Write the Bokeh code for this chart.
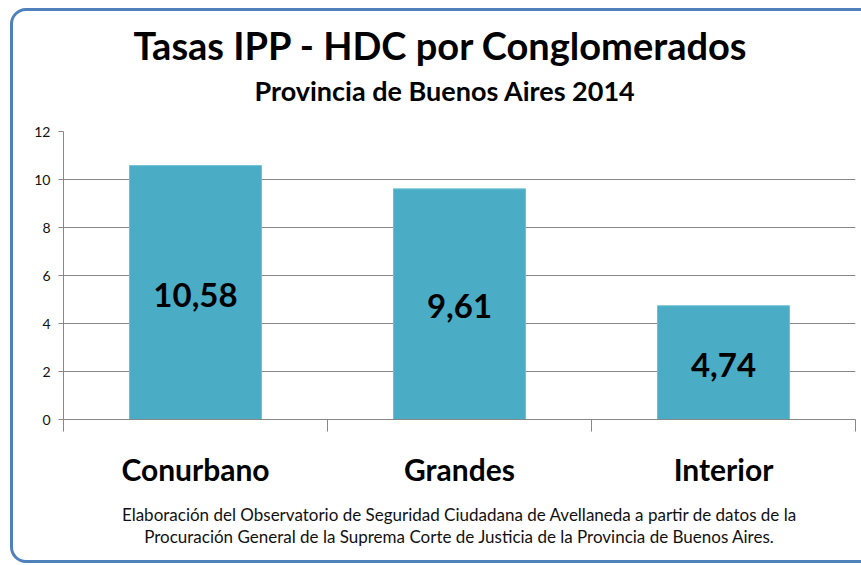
from bokeh.plotting import figure
from bokeh.models import ColumnDataSource, FixedTicker, Title, Range1d, InlineStyleSheet
from bokeh.core.properties import value
from bokeh.embed import file_html
from bokeh.resources import INLINE

categories = ["Conurbano", "Grandes", "Interior"]
rates = [10.58, 9.61, 4.74]
y_ticks = [0, 2, 4, 6, 8, 10, 12]
title_text = "Tasas IPP - HDC por Conglomerados"
subtitle_text = "Provincia de Buenos Aires 2014"
note_lines = [
    "Elaboración del Observatorio de Seguridad Ciudadana de Avellaneda a partir de datos de la",
    "Procuración General de la Suprema Corte de Justicia de la Provincia de Buenos Aires.",
]

W, H = 861, 565
FONT = "Lato"

xs = [i + 0.5 for i in range(len(categories))]
src = ColumnDataSource(dict(
    x=xs,
    top=rates,
    mid=[r / 2 for r in rates],
    lab=[f"{r:.2f}".replace(".", ",") for r in rates],
))

p = figure(width=W, height=H, output_backend="svg", toolbar_location=None,
           x_range=Range1d(0, len(categories)), y_range=Range1d(0, 12),
           min_border_left=63, min_border_right=6, min_border_top=131, min_border_bottom=146)
p.title = None
p.outline_line_color = None
p.background_fill_color = "white"
p.border_fill_color = "white"

p.vbar(x="x", top="top", width=0.5, bottom=0, source=src,
       fill_color="#4BACC6", line_color="#6FC0D6", line_width=1)
p.text(x="x", y="mid", text="lab", source=src, text_align="center", text_baseline="middle",
       text_font=value(FONT), text_font_style="bold", text_font_size="33px", text_color="black",
       y_offset=2)

# y axis
p.yaxis.ticker = FixedTicker(ticks=y_ticks)
p.yaxis.axis_line_color = "#888888"
p.yaxis.major_tick_line_color = "#888888"
p.yaxis.major_tick_out = 5
p.yaxis.major_tick_in = 0
p.yaxis.minor_tick_line_color = None
p.yaxis.major_label_text_font = FONT
p.yaxis.major_label_text_font_size = "14px"
p.yaxis.major_label_text_color = "#111111"
p.yaxis.major_label_standoff = 8

# x axis
p.xaxis.ticker = FixedTicker(ticks=xs, minor_ticks=list(range(len(categories) + 1)))
p.xaxis.major_label_overrides = {x: c for x, c in zip(xs, categories)}
p.xaxis.axis_line_color = "#888888"
p.xaxis.major_tick_line_color = None
p.xaxis.major_tick_out = 0
p.xaxis.major_tick_in = 0
p.xaxis.minor_tick_line_color = "#888888"
p.xaxis.minor_tick_out = 12
p.xaxis.minor_tick_in = 0
p.xaxis.major_label_text_font = FONT
p.xaxis.major_label_text_font_style = "bold"
p.xaxis.major_label_text_font_size = "30px"
p.xaxis.major_label_text_color = "black"
p.xaxis.major_label_standoff = 19

# source note as the x axis label (two lines)
p.xaxis.axis_label = "\n".join(note_lines)
p.xaxis.axis_label_text_font = FONT
p.xaxis.axis_label_text_font_style = "normal"
p.xaxis.axis_label_text_font_size = "17px"
p.xaxis.axis_label_text_color = "#111111"
p.xaxis.axis_label_text_line_height = 1.08
p.xaxis.axis_label_standoff = 14
p.xaxis.axis_label_text_align = "center"

p.xgrid.grid_line_color = None
p.ygrid.ticker = FixedTicker(ticks=y_ticks)
p.ygrid.grid_line_color = "#888888"
p.ygrid.grid_line_width = 1

# titles (closest to the frame first)
p.add_layout(Title(text=subtitle_text, align="left", offset=191, text_font=FONT,
                   text_font_style="bold", text_font_size="27px", text_color="black",
                   standoff=49), "above")
p.add_layout(Title(text=title_text, align="left", offset=70, text_font=FONT,
                   text_font_style="bold", text_font_size="38px", text_color="black",
                   standoff=-40), "above")

p.stylesheets = [InlineStyleSheet(css="""
:host { overflow: hidden; }
:host::after {
  content: ""; position: absolute; left: 10px; top: 8px; bottom: 2px; right: -40px;
  border: 3px solid #4F81BD; border-radius: 16px; pointer-events: none;
}
""")]

open("out.html", "w").write(file_html(p, INLINE))
